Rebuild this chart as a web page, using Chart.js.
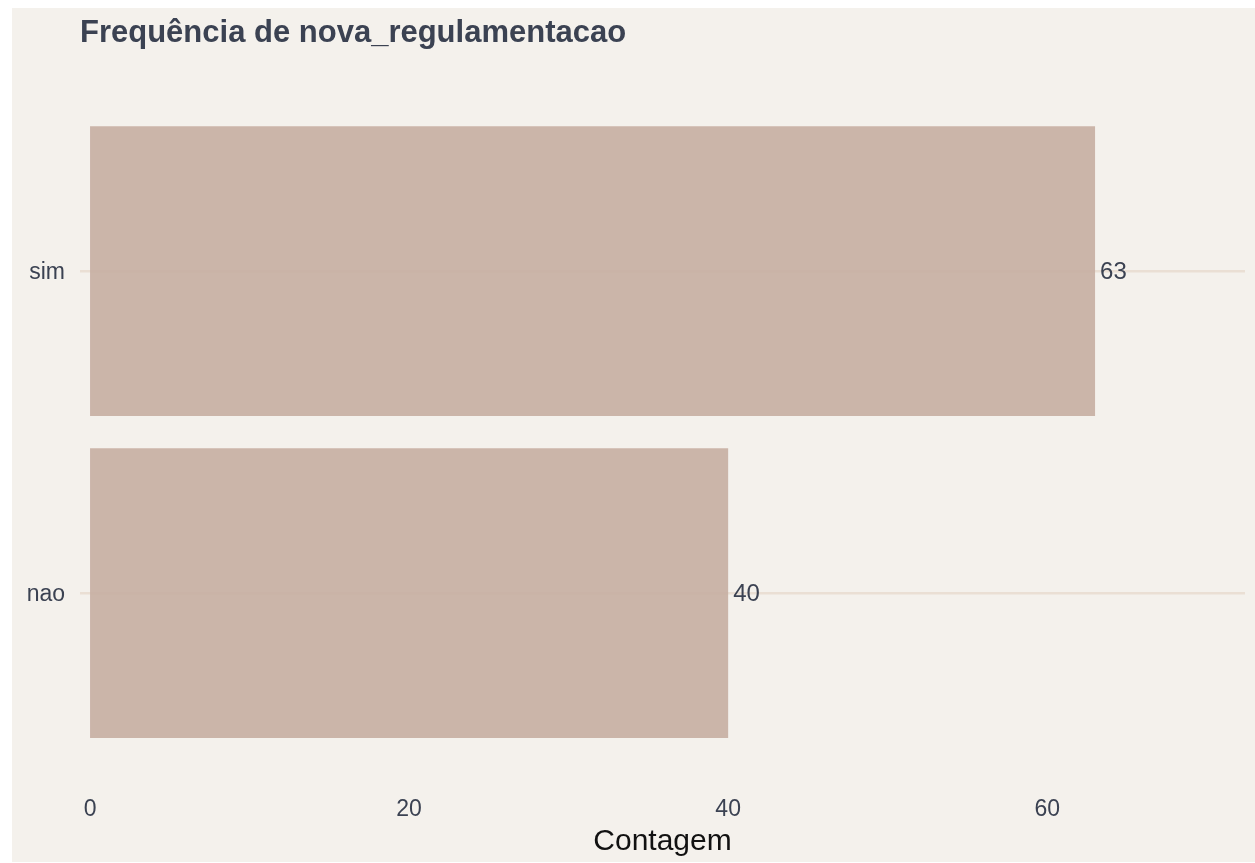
<!DOCTYPE html>
<html>
<head>
<meta charset="utf-8">
<script src="https://cdn.jsdelivr.net/npm/chart.js@4/dist/chart.umd.min.js"></script>
<style>
  html, body { margin: 0; padding: 0; background: #ffffff; width: 1255px; height: 863px; overflow: hidden; }
  #wrap { position: absolute; left: 12px; top: 8px; width: 1243px; height: 854px; background: #F4F1EC; }
  canvas { display: block; }
</style>
</head>
<body>
<div id="wrap"><canvas id="c" width="1243" height="854"></canvas></div>
<script>
const categories = ['sim', 'nao'];
const counts = [63, 40];
const xTickValues = [0, 20, 40, 60];
const titleText = 'Frequência de nova_regulamentacao';
const xAxisTitle = 'Contagem';

const textColor = '#3B4252';
const fontFamily = "'Liberation Sans', Arial, Helvetica, sans-serif";

const valueLabels = {
  id: 'valueLabels',
  afterDatasetsDraw(chart) {
    const ctx = chart.ctx;
    const meta = chart.getDatasetMeta(0);
    ctx.save();
    ctx.font = '24px ' + fontFamily;
    ctx.fillStyle = textColor;
    ctx.textAlign = 'left';
    ctx.textBaseline = 'middle';
    meta.data.forEach((el, i) => {
      ctx.fillText(String(chart.data.datasets[0].data[i]), el.x + 5, el.y + 1);
    });
    ctx.restore();
  }
};

new Chart(document.getElementById('c'), {
  type: 'bar',
  data: {
    labels: categories,
    datasets: [{
      data: counts,
      backgroundColor: 'rgba(198,174,162,0.9)',
      borderWidth: 0,
      barPercentage: 0.9,
      categoryPercentage: 1.0
    }]
  },
  options: {
    indexAxis: 'y',
    responsive: false,
    animation: false,
    devicePixelRatio: 1,
    layout: { padding: { left: 0, right: 10, top: 0, bottom: 0 } },
    plugins: {
      legend: { display: false },
      tooltip: { enabled: false },
      title: {
        display: true,
        fullSize: false,
        text: titleText,
        align: 'start',
        color: textColor,
        font: { family: fontFamily, size: 31, weight: 'bold' },
        padding: { top: 7, bottom: 58 }
      }
    },
    scales: {
      x: {
        type: 'linear',
        min: -0.63,
        max: 72.4,
        afterBuildTicks: (scale) => { scale.ticks = xTickValues.map(v => ({ value: v })); },
        afterFit: (scale) => { scale.height = 108; },
        grid: { display: false, drawTicks: false },
        border: { display: false },
        ticks: {
          color: textColor,
          font: { family: fontFamily, size: 23 },
          padding: 42,
          maxRotation: 0
        },
        title: {
          display: true,
          text: xAxisTitle,
          color: '#111111',
          font: { family: fontFamily, size: 30 },
          padding: { top: 0, bottom: 2 }
        }
      },
      y: {
        type: 'category',
        afterFit: (scale) => { scale.width = 68; },
        grid: { display: true, offset: false, color: '#EADFD4', lineWidth: 2.5, drawTicks: false },
        border: { display: false },
        ticks: {
          color: textColor,
          font: { family: fontFamily, size: 23 },
          padding: 15,
          labelOffset: 2
        }
      }
    }
  },
  plugins: [valueLabels]
});
</script>
</body>
</html>
